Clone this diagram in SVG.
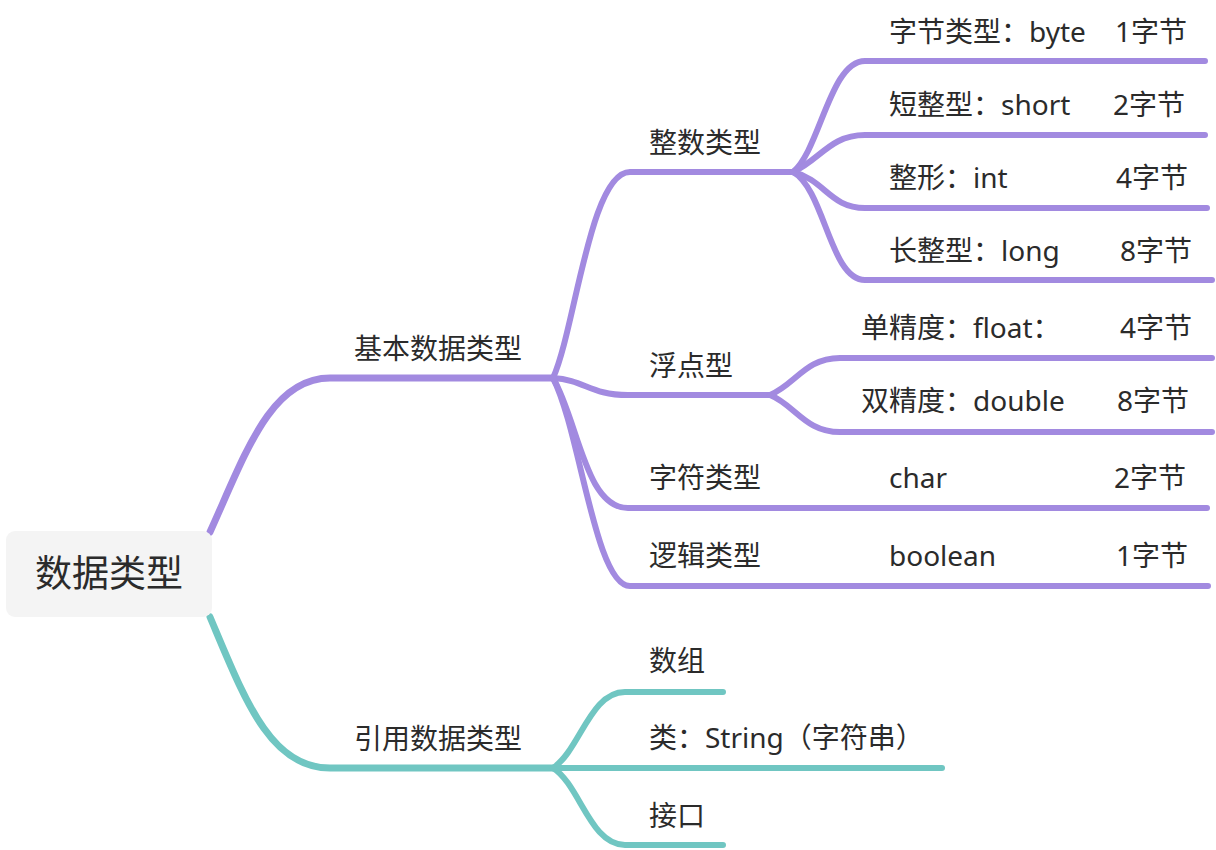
<svg xmlns="http://www.w3.org/2000/svg" width="1216" height="850" viewBox="0 0 1216 850">
<style>
text{font-family:"Noto Sans","Noto Sans CJK SC",sans-serif;fill:#2b2b2b;font-size:28px}
.root{font-size:37px}
.p{fill:none;stroke:#a28ae0;stroke-width:6;stroke-linecap:round}
.t{fill:none;stroke:#70c6c2;stroke-width:6;stroke-linecap:round}
.m{stroke-width:7}
</style>
<rect width="1216" height="850" fill="#ffffff"/>
<g id="connectors">
<path class="p m" d="M210 532 C245 455 270 378 330 378 L553 378"/>
<path class="p" d="M553 378 C575 330 590 172 630 172 L793 172"/>
<path class="p" d="M553 378 C585 380 590 395 628 395 L770 395"/>
<path class="p" d="M553 378 C578 420 585 508 628 508 L1207 508"/>
<path class="p" d="M553 378 C580 430 595 586 630 586 L1208 586"/>
<path class="p" d="M793 172 C820 150 830 61 865 61 L1205 61"/>
<path class="p" d="M793 172 C820 160 830 135 865 135 L1205 135"/>
<path class="p" d="M793 172 C825 180 830 208 865 208 L1207 208"/>
<path class="p" d="M793 172 C825 190 830 280 865 280 L1212 280"/>
<path class="p" d="M770 395 C795 385 805 358 840 358 L1212 358"/>
<path class="p" d="M770 395 C795 405 805 432 840 432 L1212 432"/>
<path class="t m" d="M210 617 C245 700 270 768 330 768 L553 768"/>
<path class="t" d="M553 768 C580 750 590 692 625 692 L723 692"/>
<path class="t" d="M553 768 L942 768"/>
<path class="t" d="M553 768 C580 785 590 845 625 845 L723 845"/>
</g>
<g id="root">
<rect x="6" y="531" width="206" height="86" rx="9" fill="#f4f4f4"/>
<text class="root" x="109" y="587" text-anchor="middle">数据类型</text>
</g>
<g id="basic"><text x="354" y="359">基本数据类型</text></g>
<g id="integer"><text x="649" y="153">整数类型</text></g>
<g id="byte"><text x="889" y="42">字节类型：byte<tspan x="1115">1字节</tspan></text></g>
<g id="short"><text x="889" y="115">短整型：short<tspan x="1113">2字节</tspan></text></g>
<g id="int"><text x="889" y="188">整形：int<tspan x="1116">4字节</tspan></text></g>
<g id="long"><text x="889" y="261">长整型：long<tspan x="1120">8字节</tspan></text></g>
<g id="floating"><text x="649" y="376">浮点型</text></g>
<g id="float"><text x="861" y="338">单精度：float：<tspan x="1120">4字节</tspan></text></g>
<g id="double"><text x="861" y="411">双精度：double<tspan x="1117">8字节</tspan></text></g>
<g id="char"><text x="649" y="488">字符类型<tspan x="889">char</tspan><tspan x="1114">2字节</tspan></text></g>
<g id="boolean"><text x="649" y="566">逻辑类型<tspan x="889">boolean</tspan><tspan x="1116">1字节</tspan></text></g>
<g id="reference"><text x="354" y="749">引用数据类型</text></g>
<g id="array"><text x="649" y="671">数组</text></g>
<g id="class"><text x="649" y="748">类：String（字符串）</text></g>
<g id="interface"><text x="649" y="826">接口</text></g>
</svg>
